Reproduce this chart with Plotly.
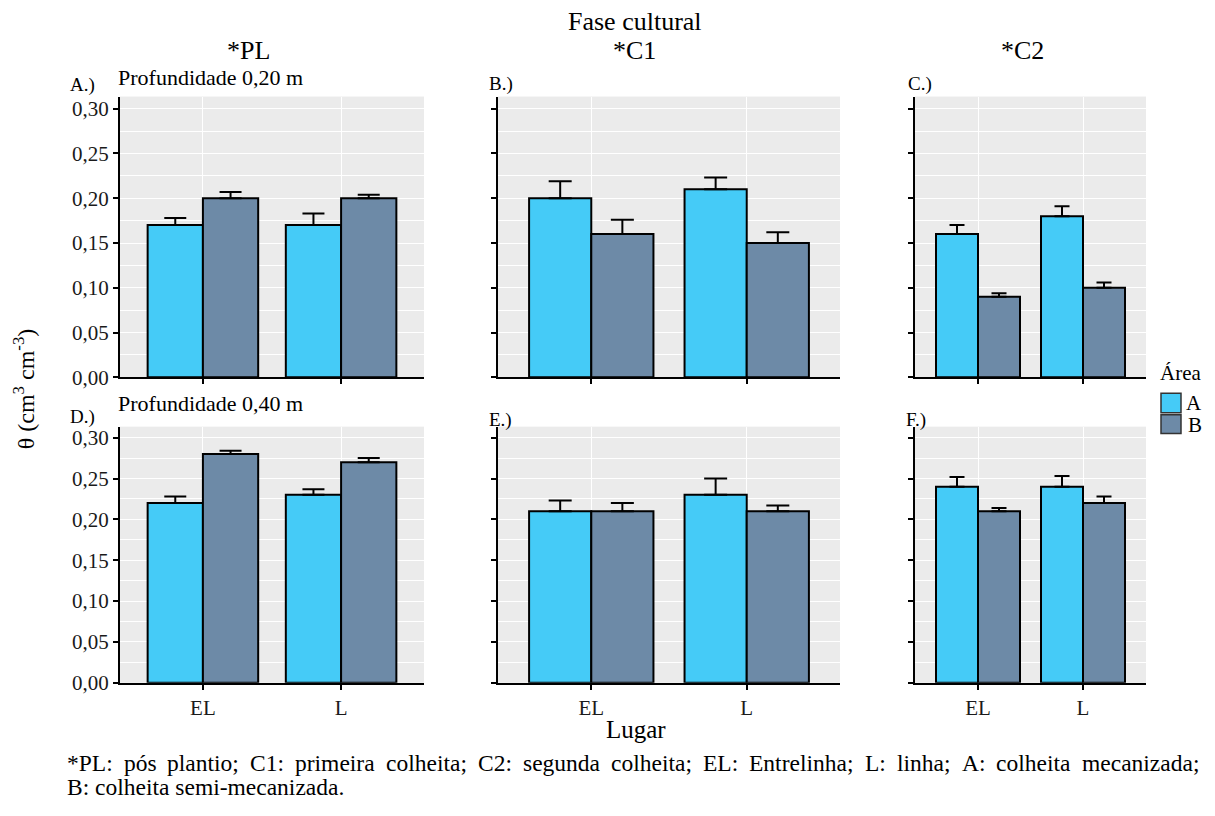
import plotly.graph_objects as go

# ---- data -------------------------------------------------------------
lugar = ["EL", "L"]
fases = ["*PL", "*C1", "*C2"]
areas = ["A", "B"]

# mean soil water content (cm3 cm-3); rows: PL, C1, C2 ; cols: EL, L
area_a_020 = [[0.17, 0.17], [0.20, 0.21], [0.16, 0.18]]
area_b_020 = [[0.20, 0.20], [0.16, 0.15], [0.09, 0.10]]
area_a_040 = [[0.22, 0.23], [0.21, 0.23], [0.24, 0.24]]
area_b_040 = [[0.28, 0.27], [0.21, 0.21], [0.21, 0.22]]

# standard error (upper bar only)
err_a_020 = [[0.008, 0.013], [0.019, 0.013], [0.010, 0.011]]
err_b_020 = [[0.007, 0.004], [0.016, 0.012], [0.004, 0.006]]
err_a_040 = [[0.008, 0.007], [0.013, 0.020], [0.012, 0.013]]
err_b_040 = [[0.004, 0.005], [0.010, 0.007], [0.004, 0.008]]

y_ticks = [0.00, 0.05, 0.10, 0.15, 0.20, 0.25, 0.30]
y_tick_labels = ["0,00", "0,05", "0,10", "0,15", "0,20", "0,25", "0,30"]

panel_tags = ["A.)", "B.)", "C.)", "D.)", "E.)", "F.)"]
depth_labels = ["Profundidade 0,20 m", "Profundidade 0,40 m"]

# ---- styling ----------------------------------------------------------
W, H = 1215, 816
FONT = "Times New Roman, Liberation Serif, DejaVu Serif, serif"
COL_A = "#45CBF7"
COL_B = "#6D8AA7"
PANEL_BG = "#EBEBEB"

# column / row extents in pixels
col_px = [(120, 424), (498, 840), (915, 1146)]
row_px = [(98, 383), (433, 693)]
cap_halfwidth = [11, 11.5, 7.5]


def px_x(x):
    return x / W


def px_y(y):
    return 1 - y / H


fig = go.Figure()

means = [[area_a_020, area_b_020], [area_a_040, area_b_040]]
errs = [[err_a_020, err_b_020], [err_a_040, err_b_040]]
colors = [COL_A, COL_B]

layout_axes = {}
for r in range(2):
    for c in range(3):
        i = r * 3 + c + 1
        sfx = "" if i == 1 else str(i)
        for k, area in enumerate(areas):
            fig.add_trace(go.Bar(
                x=lugar,
                y=means[r][k][c],
                name=area,
                marker=dict(color=colors[k], line=dict(color="black", width=2)),
                error_y=dict(type="data", symmetric=False,
                             array=errs[r][k][c], arrayminus=[0, 0],
                             color="black", thickness=2,
                             width=cap_halfwidth[c]),
                xaxis="x" + sfx, yaxis="y" + sfx,
                showlegend=False,
            ))
        x0, x1 = col_px[c]
        y0, y1 = row_px[r]
        layout_axes["xaxis" + sfx] = dict(
            domain=[px_x(x0), px_x(x1)], anchor="y" + sfx,
            type="category", categoryorder="array", categoryarray=lugar,
            range=[-0.6, 1.6],
            showgrid=True, gridcolor="white", gridwidth=1.4,
            showline=True, linecolor="black", linewidth=2,
            ticks="outside", ticklen=5, tickwidth=1.5, tickcolor="black",
            showticklabels=(r == 1),
            tickfont=dict(family=FONT, size=21, color="#1a1a1a"),
            zeroline=False, fixedrange=True,
        )
        layout_axes["yaxis" + sfx] = dict(
            domain=[px_y(y1), px_y(y0)], anchor="x" + sfx,
            range=[0, 0.3135],
            tickmode="array", tickvals=y_ticks, ticktext=y_tick_labels,
            showticklabels=(c == 0),
            tickfont=dict(family=FONT, size=21, color="#1a1a1a"),
            showgrid=True, gridcolor="white", gridwidth=1.4,
            minor=dict(dtick=0.025, tick0=0, showgrid=True,
                       gridcolor="white", gridwidth=0.7, ticks=""),
            showline=True, linecolor="black", linewidth=2,
            ticks="outside", ticklen=5, tickwidth=1.5, tickcolor="black",
            zeroline=False, fixedrange=True,
        )

annotations = []


def note(text, x, y, size, xanchor="center", angle=0):
    annotations.append(dict(
        text=text, x=px_x(x), y=px_y(y), xref="paper", yref="paper",
        xanchor=xanchor, yanchor="middle", showarrow=False, textangle=angle,
        borderpad=0,
        font=dict(family=FONT, size=size, color="black"),
    ))


# titles
note("Fase cultural", 635, 22, 26)
for label, xc in zip(fases, [248, 635, 1022]):
    note(label, xc, 51, 26)

# panel tags and depth labels
tag_pos = [(69, 86), (488, 85), (907, 85), (69, 423), (488, 426), (905, 426)]
for tag, (tx, ty) in zip(panel_tags, tag_pos):
    note(tag, tx, ty, 19, xanchor="left")
note(depth_labels[0], 117, 79, 22, xanchor="left")
note(depth_labels[1], 117, 410, 22, xanchor="left")

# axis titles
note("θ (cm<sup>3</sup> cm<sup>-3</sup>)", 24, 395, 24, angle=-90)
note("Lugar", 636, 740, 25)

# legend
note("Área", 1159, 379, 21, xanchor="left")
note("A", 1185, 409, 21, xanchor="left")
note("B", 1187, 431, 21, xanchor="left")
shapes = []
for (ya, yb), col in zip([(399, 419), (421, 440)], colors):
    shapes.append(dict(type="rect", xref="paper", yref="paper",
                       x0=px_x(1161), x1=px_x(1181), y0=px_y(yb), y1=px_y(ya),
                       fillcolor=col, line=dict(color="#333333", width=1.5)))

# footnote, first line justified between the margins
GLYPH = {
    "a": 444, "b": 500, "c": 444, "d": 500, "e": 444, "f": 333, "g": 500,
    "h": 500, "i": 278, "j": 278, "k": 500, "l": 278, "m": 778, "n": 500,
    "o": 500, "p": 500, "q": 500, "r": 333, "s": 389, "t": 278, "u": 500,
    "v": 500, "w": 722, "x": 500, "y": 500, "z": 444, "ó": 500,
    "A": 722, "B": 667, "C": 667, "E": 611, "L": 611, "P": 556,
    ":": 278, ";": 278, ",": 250, ".": 250, "*": 500, "-": 333, " ": 250,
}


def text_width(s, size):
    return sum(GLYPH.get(ch, 500) for ch in s) / 1000 * size


foot1 = ("*PL: pós plantio; C1: primeira colheita; C2: segunda colheita; "
         "EL: Entrelinha; L: linha; A: colheita mecanizada;")
foot2 = "B: colheita semi-mecanizada."
FS = 23.5
x_start, x_end = 66, 1198
words = foot1.split(" ")
gap = (x_end - x_start - sum(text_width(w, FS) for w in words)) / (len(words) - 1)
xp = x_start
for w in words:
    note(w, xp, 774, FS, xanchor="left")
    xp += text_width(w, FS) + gap
note(foot2, x_start, 799, FS, xanchor="left")

fig.update_layout(
    width=W, height=H,
    margin=dict(l=0, r=0, t=0, b=0),
    font=dict(family=FONT),
    paper_bgcolor="white", plot_bgcolor=PANEL_BG,
    barmode="group", bargap=0.2, bargroupgap=0,
    showlegend=False,
    annotations=annotations, shapes=shapes,
    **layout_axes,
)

fig.write_html("out.html")
